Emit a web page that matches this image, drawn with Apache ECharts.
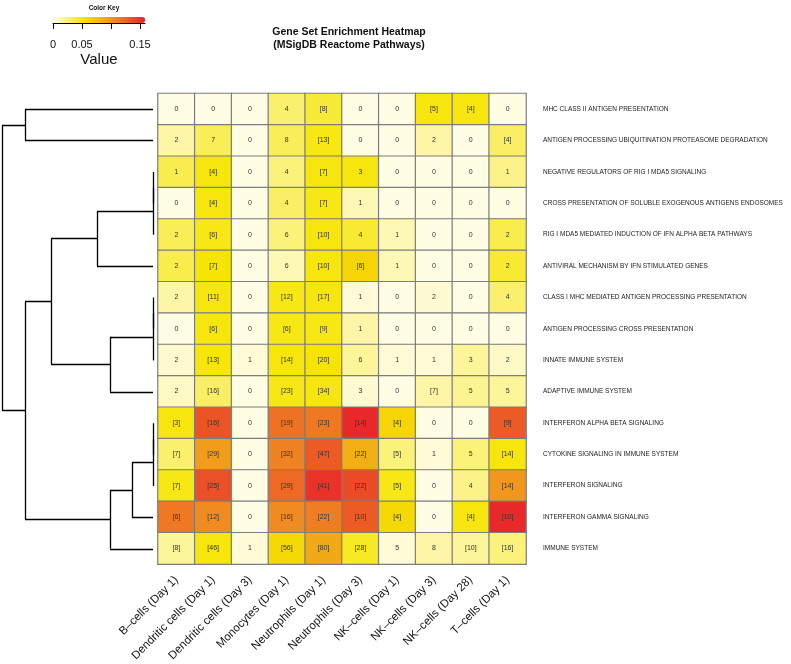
<!DOCTYPE html>
<html>
<head>
<meta charset="utf-8">
<script src="https://cdn.jsdelivr.net/npm/echarts@6/dist/echarts.min.js"></script>
<style>
  html, body { margin: 0; padding: 0; background: #fff; }
  #chart { width: 791px; height: 664px; }
</style>
</head>
<body>
<div id="chart"></div>
<script>
// ---- data ----
const colNames = ['B–cells (Day 1)', 'Dendritic cells (Day 1)', 'Dendritic cells (Day 3)', 'Monocytes (Day 1)',
  'Neutrophils (Day 1)', 'Neutrophils (Day 3)', 'NK–cells (Day 1)', 'NK–cells (Day 3)', 'NK–cells (Day 28)', 'T–cells (Day 1)'];

const rowNames = [
  'MHC CLASS II ANTIGEN PRESENTATION',
  'ANTIGEN PROCESSING UBIQUITINATION PROTEASOME DEGRADATION',
  'NEGATIVE REGULATORS OF RIG I MDA5 SIGNALING',
  'CROSS PRESENTATION OF SOLUBLE EXOGENOUS ANTIGENS ENDOSOMES',
  'RIG I MDA5 MEDIATED INDUCTION OF IFN ALPHA BETA PATHWAYS',
  'ANTIVIRAL MECHANISM BY IFN STIMULATED GENES',
  'CLASS I MHC MEDIATED ANTIGEN PROCESSING PRESENTATION',
  'ANTIGEN PROCESSING CROSS PRESENTATION',
  'INNATE IMMUNE SYSTEM',
  'ADAPTIVE IMMUNE SYSTEM',
  'INTERFERON ALPHA BETA SIGNALING',
  'CYTOKINE SIGNALING IN IMMUNE SYSTEM',
  'INTERFERON SIGNALING',
  'INTERFERON GAMMA SIGNALING',
  'IMMUNE SYSTEM'
];

// text printed in each cell (row by row, columns in colNames order)
const cellText = [
  ['0', '0', '0', '4', '[8]', '0', '0', '[5]', '[4]', '0'],
  ['2', '7', '0', '8', '[13]', '0', '0', '2', '0', '[4]'],
  ['1', '[4]', '0', '4', '[7]', '3', '0', '0', '0', '1'],
  ['0', '[4]', '0', '4', '[7]', '1', '0', '0', '0', '0'],
  ['2', '[6]', '0', '6', '[10]', '4', '1', '0', '0', '2'],
  ['2', '[7]', '0', '6', '[10]', '[6]', '1', '0', '0', '2'],
  ['2', '[11]', '0', '[12]', '[17]', '1', '0', '2', '0', '4'],
  ['0', '[6]', '0', '[6]', '[9]', '1', '0', '0', '0', '0'],
  ['2', '[13]', '1', '[14]', '[20]', '6', '1', '1', '3', '2'],
  ['2', '[16]', '0', '[23]', '[34]', '3', '0', '[7]', '5', '5'],
  ['[3]', '[16]', '0', '[19]', '[23]', '[14]', '[4]', '0', '0', '[9]'],
  ['[7]', '[29]', '0', '[32]', '[47]', '[22]', '[5]', '1', '5', '[14]'],
  ['[7]', '[25]', '0', '[29]', '[41]', '[22]', '[5]', '0', '4', '[14]'],
  ['[6]', '[12]', '0', '[16]', '[22]', '[10]', '[4]', '0', '[4]', '[10]'],
  ['[8]', '[46]', '1', '[56]', '[80]', '[28]', '5', '8', '[10]', '[16]']
];

// colour value of each cell (estimated from the colour key)
const cellValue = [
  [0.001, 0.001, 0.001, 0.028, 0.040, 0.001, 0.001, 0.050, 0.050, 0.001],
  [0.015, 0.033, 0.001, 0.033, 0.048, 0.001, 0.001, 0.015, 0.001, 0.030],
  [0.035, 0.050, 0.001, 0.025, 0.050, 0.050, 0.001, 0.001, 0.001, 0.022],
  [0.001, 0.050, 0.001, 0.030, 0.048, 0.012, 0.001, 0.001, 0.001, 0.001],
  [0.033, 0.048, 0.001, 0.025, 0.050, 0.042, 0.012, 0.001, 0.001, 0.035],
  [0.035, 0.052, 0.001, 0.012, 0.050, 0.062, 0.012, 0.001, 0.001, 0.042],
  [0.015, 0.050, 0.001, 0.048, 0.050, 0.004, 0.001, 0.005, 0.001, 0.028],
  [0.001, 0.050, 0.001, 0.048, 0.048, 0.015, 0.001, 0.001, 0.001, 0.001],
  [0.006, 0.050, 0.004, 0.050, 0.052, 0.018, 0.004, 0.004, 0.018, 0.008],
  [0.008, 0.030, 0.001, 0.048, 0.050, 0.005, 0.001, 0.015, 0.020, 0.018],
  [0.050, 0.133, 0.001, 0.118, 0.115, 0.155, 0.062, 0.001, 0.001, 0.130],
  [0.028, 0.095, 0.001, 0.110, 0.130, 0.085, 0.025, 0.004, 0.025, 0.050],
  [0.048, 0.135, 0.001, 0.122, 0.150, 0.138, 0.048, 0.001, 0.022, 0.098],
  [0.115, 0.105, 0.001, 0.105, 0.112, 0.130, 0.060, 0.001, 0.050, 0.155],
  [0.018, 0.050, 0.004, 0.060, 0.088, 0.045, 0.004, 0.015, 0.018, 0.025]
];

// row dendrogram, hclust style: negative = leaf (1-based row), positive = earlier merge
const dendroMerges = [
  [-3, -4, 0], [1, -5, 0], [2, -6, 56],
  [-7, -8, 0], [4, -9, 0], [5, -10, 43],
  [3, 6, 102],
  [-11, -12, 0], [8, -13, 0], [9, -14, 21], [10, -15, 43],
  [7, 11, 128],
  [-1, -2, 128],
  [13, 12, 151]
];

const keyMin = 0, keyMax = 0.1586;
const keyTicks = [0, 0.05, 0.1, 0.15];
const keyLabels = [0, 0.05, 0.15];

// ---- build ----
const FONT = '"Liberation Sans", Arial, Helvetica, sans-serif';
const heatData = [];
cellValue.forEach((row, r) => row.forEach((v, c) => heatData.push([c, r, v])));

function dendroSegments() {
    const pos = [];
    const segs = [];
    const node = (ref) => ref < 0 ? { y: -ref - 1, h: 0 } : pos[ref - 1];
    dendroMerges.forEach(([a, b, h]) => {
        const A = node(a), B = node(b);
        segs.push({ coords: [[A.h, A.y], [h, A.y]] });
        segs.push({ coords: [[B.h, B.y], [h, B.y]] });
        segs.push({ coords: [[h, A.y], [h, B.y]] });
        pos.push({ y: (A.y + B.y) / 2, h });
    });
    return segs;
}

const chart = echarts.init(document.getElementById('chart'), null, { renderer: 'canvas' });
chart.setOption({
    backgroundColor: '#fff',
    animation: false,
    textStyle: { fontFamily: FONT },
    title: [
        {
            text: 'Gene Set Enrichment Heatmap\n(MSigDB Reactome Pathways)',
            left: 344, top: 21, textAlign: 'center',
            textStyle: { fontSize: 10.5, fontWeight: 'bold', color: '#111', lineHeight: 12.5, fontFamily: FONT }
        },
        {
            text: 'Color Key', left: 99, top: 0, textAlign: 'center',
            textStyle: { fontSize: 6.5, fontWeight: 'bold', color: '#111', fontFamily: FONT }
        }
    ],
    visualMap: {
        type: 'continuous', seriesIndex: 0, dimension: 2,
        min: keyMin, max: keyMax,
        orient: 'horizontal', left: 53, top: 17, itemWidth: 6, itemHeight: 92,
        padding: 0, calculable: false, text: null, showLabel: false,
        inRange: { color: ['#FFFDE8', '#F6E500', '#F08A22', '#E8222A'] }
    },
    grid: [
        { left: 158, top: 93.5, width: 368, height: 471 },
        { left: 53, top: 17, width: 92, height: 6 },
        { left: 2, top: 93.5, width: 151, height: 471 }
    ],
    xAxis: [
        {
            type: 'category', gridIndex: 0, data: colNames, position: 'bottom',
            axisLine: { show: false }, axisTick: { show: false }, splitLine: { show: false },
            axisLabel: { rotate: 45, fontSize: 11.5, color: '#111', margin: 14, interval: 0 }
        },
        {
            type: 'value', gridIndex: 1, min: keyMin, max: keyMax, position: 'bottom',
            name: 'Value', nameLocation: 'middle', nameGap: 29,
            nameTextStyle: { fontSize: 15, color: '#111' },
            axisLine: { show: true, lineStyle: { color: '#000', width: 1 } },
            axisTick: { show: true, length: 6, customValues: keyTicks, lineStyle: { color: '#000' } },
            axisLabel: { fontSize: 11, color: '#111', margin: 16, customValues: keyLabels,
                formatter: (v) => String(v) },
            splitLine: { show: false }
        },
        {
            type: 'value', gridIndex: 2, min: 0, max: 151, inverse: true, show: false
        }
    ],
    yAxis: [
        {
            type: 'category', gridIndex: 0, data: rowNames, inverse: true, position: 'right',
            axisLine: { show: false }, axisTick: { show: false }, splitLine: { show: false },
            axisLabel: { fontSize: 6.5, color: '#222', margin: 17, interval: 0 }
        },
        { type: 'value', gridIndex: 1, show: false, min: 0, max: 1 },
        { type: 'value', gridIndex: 2, min: -0.5, max: 14.5, inverse: true, show: false }
    ],
    series: [
        {
            type: 'heatmap', xAxisIndex: 0, yAxisIndex: 0, data: heatData,
            itemStyle: { borderColor: '#7d7d7d', borderWidth: 1.2 },
            label: {
                show: true, fontSize: 7, color: '#333',
                formatter: (p) => cellText[p.value[1]][p.value[0]]
            }
        },
        {
            type: 'lines', coordinateSystem: 'cartesian2d', xAxisIndex: 2, yAxisIndex: 2,
            data: dendroSegments(), silent: true,
            lineStyle: { color: '#000', width: 1.3, opacity: 1 }
        }
    ]
});
</script>
</body>
</html>
